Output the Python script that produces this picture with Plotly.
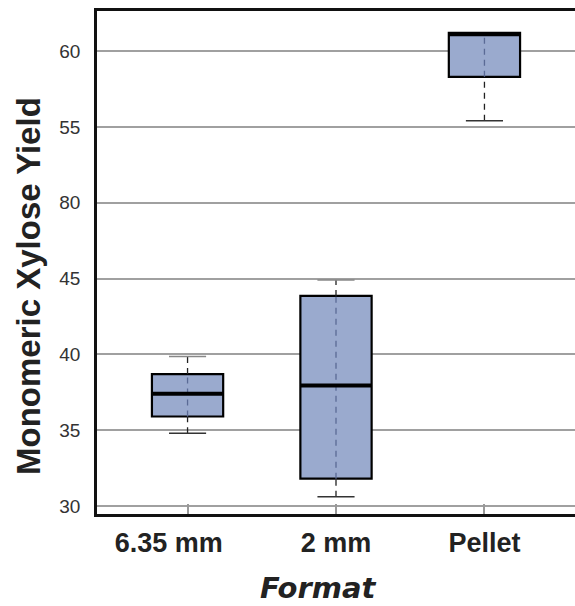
import plotly.graph_objects as go

categories = ["6.35 mm", "2 mm", "Pellet"]
q1 = [35.9, 31.8, 58.3]
median = [37.4, 37.95, 61.1]
q3 = [38.7, 43.85, 61.2]
lower_whisker = [34.8, 30.6, 55.4]
upper_whisker = [39.85, 44.9, 61.2]
ytick_vals = [30, 35, 40, 45, 50, 55, 60]
ytick_text = ["30", "35", "40", "45", "80", "55", "60"]
x_title = "Format"
y_title = "Monomeric Xylose Yield"

xpos = list(range(len(categories)))
box_half = 0.24
cap_half = 0.125
fill = "#9aaace"

# first category label sits slightly left of its tick in the reference
tick_labels = [categories[0] + "\u00a0" * 5] + categories[1:]

fig = go.Figure()

fig.add_trace(go.Box(
    x=xpos, q1=q1, median=median, q3=q3,
    lowerfence=q1, upperfence=q3,
    width=2 * box_half, whiskerwidth=0,
    fillcolor=fill, line=dict(color="black", width=2.2),
    boxpoints=False, showlegend=False, hoverinfo="skip",
))

for i, x in enumerate(xpos):
    fig.add_trace(go.Scatter(x=[x, x], y=[lower_whisker[i], q1[i]], mode="lines",
                             line=dict(color="#222", width=1.3, dash="6px,5px"),
                             showlegend=False, hoverinfo="skip"))
    fig.add_trace(go.Scatter(x=[x, x], y=[q3[i], upper_whisker[i]], mode="lines",
                             line=dict(color="#222", width=1.3, dash="6px,5px"),
                             showlegend=False, hoverinfo="skip"))
    fig.add_trace(go.Scatter(x=[x, x], y=[q1[i], q3[i]], mode="lines",
                             line=dict(color="#5a6a95", width=1.3, dash="6px,5px"),
                             showlegend=False, hoverinfo="skip"))
    if lower_whisker[i] < q1[i]:
        fig.add_trace(go.Scatter(x=[x - cap_half, x + cap_half], y=[lower_whisker[i]] * 2,
                                 mode="lines", line=dict(color="#333", width=1.5),
                                 showlegend=False, hoverinfo="skip"))
    if upper_whisker[i] > q3[i]:
        fig.add_trace(go.Scatter(x=[x - cap_half, x + cap_half], y=[upper_whisker[i]] * 2,
                                 mode="lines", line=dict(color="#888", width=1.5),
                                 showlegend=False, hoverinfo="skip"))
    fig.add_trace(go.Scatter(x=[x - box_half, x + box_half], y=[median[i]] * 2,
                             mode="lines", line=dict(color="black", width=4),
                             showlegend=False, hoverinfo="skip"))

fig.update_layout(
    width=575, height=606,
    margin=dict(l=97, r=0, t=11, b=92),
    plot_bgcolor="white", paper_bgcolor="white",
    font=dict(family="Liberation Sans, Arial, sans-serif", color="#222"),
    annotations=[
        dict(text="<b>" + y_title + "</b>", textangle=-90,
             xref="paper", yref="paper", x=(28 - 97) / 478, y=(514 - 286) / 503,
             xanchor="center", yanchor="middle", showarrow=False,
             font=dict(family="Liberation Sans, Arial", size=33, color="#222")),
        dict(text="<b><i>" + x_title + "</i></b>",
             xref="paper", yref="paper", x=(318 - 97) / 478, y=(514 - 588) / 503,
             xanchor="center", yanchor="middle", showarrow=False, borderpad=0,
             font=dict(family="DejaVu Sans", size=29, color="#222")),
    ],
)

fig.update_xaxes(
    automargin=False,
    range=[-0.61, 2.61], tickvals=xpos, ticktext=tick_labels,
    tickfont=dict(family="Liberation Sans, Arial", size=27, color="#222", weight="bold"),
    ticks="inside", ticklen=10, tickwidth=1.5, tickcolor="#999",
    showgrid=False, zeroline=False,
    showline=True, linecolor="#111", linewidth=2.5, mirror=True,
    ticklabelstandoff=3,
)

fig.update_yaxes(
    automargin=False,
    range=[29.47, 62.64], tickvals=ytick_vals, ticktext=ytick_text,
    tickfont=dict(family="Liberation Sans, Arial", size=19, color="#333"),
    ticks="", ticklabelstandoff=10,
    showgrid=True, gridcolor="#a0a0a0", gridwidth=1.8,
    zeroline=False,
    showline=True, linecolor="#111", linewidth=2.5,
)

fig.write_html("out.html", config={"displayModeBar": False},
               post_script="document.body.style.margin='0';document.body.style.overflow='hidden';")
